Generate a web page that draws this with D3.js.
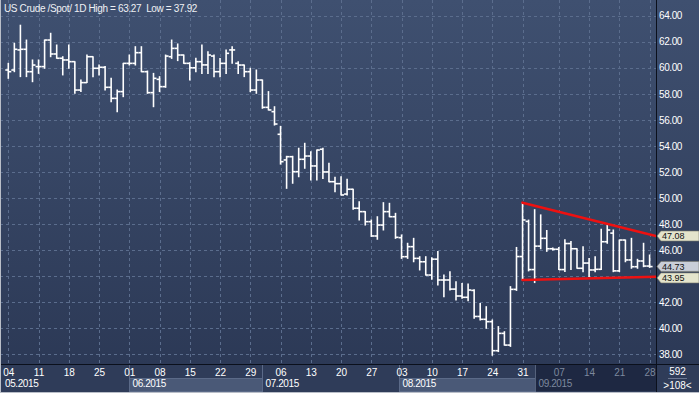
<!DOCTYPE html>
<html><head><meta charset="utf-8">
<script src="https://cdn.jsdelivr.net/npm/d3@7"></script>
<style>
html,body{margin:0;padding:0;background:#2f3c59;overflow:hidden;}
svg{display:block;}
text{font-family:"Liberation Sans",Arial,sans-serif;white-space:pre;}
</style></head><body>
<svg id="chart" width="699" height="393"></svg>
<script>
const titleText = "US Crude /Spot/ 1D High = 63.27  Low = 37.92";
const open  = [59.83,59.83,61.37,61.42,59.70,60.09,60.09,62.13,61.06,60.73,60.60,60.47,58.29,58.86,60.85,59.96,60.04,58.50,57.65,58.17,
60.34,60.34,61.16,59.70,58.09,59.11,58.55,60.85,61.49,60.98,60.34,60.00,60.47,60.22,60.90,59.70,60.34,61.37,60.34,60.21,
59.70,58.29,59.06,56.96,56.63,54.89,52.92,53.17,52.02,52.97,53.22,52.46,53.74,52.00,51.25,51.10,50.30,50.67,49.21,48.95,
48.18,47.08,47.92,48.95,48.56,46.95,45.49,46.26,45.36,45.10,44.08,45.30,43.70,43.70,43.00,42.47,42.37,42.90,40.90,40.68,
40.50,38.27,39.60,38.70,42.98,45.50,48.20,44.50,46.30,46.90,46.10,46.06,44.50,46.50,46.10,44.60,45.00,44.47,44.52,46.64,
47.30,44.40,46.77,45.24,44.72,45.16,44.77];
const high  = [60.34,61.88,63.27,62.13,60.60,60.60,62.13,62.65,61.75,60.85,61.75,60.47,59.06,60.98,60.85,60.21,60.09,59.19,58.29,60.34,
60.98,61.62,61.62,59.75,59.57,59.32,60.98,62.13,61.83,60.98,60.39,60.73,61.75,61.24,60.98,60.72,61.37,61.62,60.47,60.21,
59.96,59.83,59.06,58.17,57.01,55.50,53.20,53.20,53.82,54.20,53.55,53.68,53.82,52.66,51.60,51.63,51.43,50.67,49.71,48.95,
48.31,48.56,49.64,49.59,48.82,47.16,46.52,46.90,45.49,45.49,45.40,45.88,44.08,44.34,43.57,43.44,43.39,42.95,41.90,41.65,
40.63,40.12,39.73,43.19,46.20,49.64,48.30,49.10,48.70,47.50,46.15,46.20,46.80,46.65,46.10,46.26,45.36,45.49,47.59,47.90,
47.54,46.77,46.77,46.90,45.29,46.52,45.62];
const low   = [59.19,59.70,59.32,59.32,58.93,59.57,59.96,60.85,60.73,59.45,59.96,58.04,58.17,58.86,59.32,59.45,58.29,57.40,56.63,57.78,
60.21,60.21,59.70,58.04,57.01,58.17,58.50,60.72,60.55,60.34,59.06,59.70,59.57,59.57,59.32,59.32,59.57,60.34,59.57,59.32,
58.17,58.04,56.89,56.76,55.60,52.60,50.74,51.13,51.63,52.28,51.38,51.38,51.50,51.25,50.48,50.23,50.23,49.13,48.31,47.92,
47.05,46.83,47.54,48.56,46.90,45.36,45.36,45.10,44.47,44.08,43.75,43.31,42.42,42.93,42.16,42.29,42.10,40.76,40.63,39.99,
37.92,38.20,38.70,38.60,42.90,43.70,44.40,43.50,46.10,45.90,46.00,44.50,44.35,44.50,44.60,44.34,43.96,44.34,44.50,46.52,
44.34,44.35,45.10,44.60,44.60,44.72,44.67];
const close = [59.70,61.42,61.42,59.70,60.21,60.09,62.13,61.06,60.73,60.60,60.47,58.29,58.86,60.85,59.96,60.04,58.50,57.65,58.17,60.34,
60.34,61.16,59.70,58.09,59.19,58.55,60.90,61.49,60.98,60.34,60.00,60.47,60.22,60.98,59.70,60.34,61.11,61.37,60.21,59.70,
58.29,59.06,56.96,56.76,55.68,52.79,53.17,52.02,52.97,53.22,52.46,53.68,52.00,51.25,51.10,50.23,50.67,49.21,48.95,48.18,
47.08,47.92,48.95,48.56,46.98,45.49,46.26,45.36,45.10,44.08,45.30,43.70,43.70,43.00,42.47,42.37,42.93,40.90,40.68,40.50,
38.27,39.60,38.70,42.98,45.50,48.31,44.50,46.30,46.90,46.10,46.06,44.50,46.50,46.10,44.60,45.00,44.47,44.52,46.64,47.54,
44.40,46.77,45.24,44.72,45.16,44.77,44.73];

const yTicks = [38,40,42,44,46,48,50,52,54,56,58,60,62,64];
const weekLabels = ["04","11","18","25","01","08","15","22","29","06","13","20","27","03","10","17","24","31","07","14","21","28"];
const weekIdx    = [0,5,10,15,20,25,30,35,40,45,50,55,60,65,70,75,80,85,91,96,101,106];
const monthLabels = ["05.2015","06.2015","07.2015","08.2015","09.2015"];
const monthIdx    = [0,20,42,64.6,87];
// trend lines: [startIndex, startPrice, endIndex, endPrice]
const trendLines = [[85,49.64,107.05,47.08],[85,43.70,107.05,43.95]];
const barCountText = "592";
const visibleText = ">108<";

const W = 699, H = 393, PR = 656, PB = 364;
const svg = d3.select("#chart");
const x = d3.scaleLinear().domain([0,106]).range([8.3,649.6]);
const y = d3.scaleLinear().domain([38,64]).range([354.2,15.7]);

const defs = svg.append("defs");
const g1 = defs.append("linearGradient").attr("id","bg").attr("x1",0).attr("y1",0).attr("x2",0).attr("y2",1);
g1.append("stop").attr("offset","0%").attr("stop-color","#3f5070");
g1.append("stop").attr("offset","100%").attr("stop-color","#2c3956");
defs.append("clipPath").attr("id","clip").append("rect").attr("x",0).attr("y",0).attr("width",PR).attr("height",PB);

svg.append("rect").attr("width",W).attr("height",H).attr("fill","#2f3c59");
svg.append("rect").attr("width",PR).attr("height",PB).attr("fill","url(#bg)");
svg.append("rect").attr("x",PR).attr("width",W-PR).attr("height",PB).attr("fill","url(#bg)");

// grid
const grid = svg.append("g").attr("stroke","#5b6d8d").attr("stroke-dasharray","3,3").attr("shape-rendering","crispEdges");
grid.selectAll(".h").data(yTicks).join("line").attr("x1",0).attr("x2",PR)
  .attr("y1",d=>Math.round(y(d))+0.5).attr("y2",d=>Math.round(y(d))+0.5);
grid.selectAll(".v").data(weekIdx).join("line").attr("y1",0).attr("y2",PB)
  .attr("x1",d=>Math.round(x(d))+0.5).attr("x2",d=>Math.round(x(d))+0.5);

// bars
const idx = d3.range(open.length);
const bars = svg.append("g").attr("clip-path","url(#clip)").attr("stroke","#ffffff").attr("stroke-width",1.6);
bars.selectAll(".hl").data(idx).join("line").attr("x1",i=>x(i)).attr("x2",i=>x(i))
  .attr("y1",i=>y(high[i])-0.5).attr("y2",i=>y(low[i])+0.5);
bars.selectAll(".o").data(idx).join("line").attr("x1",i=>x(i)-3).attr("x2",i=>x(i))
  .attr("y1",i=>y(open[i])).attr("y2",i=>y(open[i]));
bars.selectAll(".c").data(idx).join("line").attr("x1",i=>x(i)).attr("x2",i=>x(i)+3)
  .attr("y1",i=>y(close[i])).attr("y2",i=>y(close[i]));

// trend lines
svg.append("g").attr("clip-path","url(#clip)").selectAll("line").data(trendLines).join("line")
  .attr("x1",d=>x(d[0])).attr("y1",d=>y(d[1])).attr("x2",d=>x(d[2])).attr("y2",d=>y(d[3]))
  .attr("stroke","#ee1111").attr("stroke-width",2.6).attr("stroke-linecap","round");

// title
svg.append("text").attr("x",4).attr("y",12).attr("fill","#eef0f4").attr("font-size",10)
  .attr("letter-spacing",-0.35).text(titleText);

// price tags (computed first so covered axis labels can be skipped, as in the original)
const tags = [
  {v: trendLines[0][3], fill:"#e4e4cc", dy:0},
  {v: close[close.length-1], fill:"#c9ced8", dy:-0.2},
  {v: trendLines[1][3], fill:"#e4e4cc", dy:1.2}
];
const tagY = tags.map(t=>y(t.v)+t.dy);

// right axis
const yAxis = d3.axisRight(y).tickValues(yTicks).tickFormat(d3.format(".2f")).tickSize(0).tickPadding(3);
const ya = svg.append("g").attr("transform",`translate(${PR},0)`).call(yAxis);
ya.select(".domain").remove();
ya.selectAll("text").attr("fill","#ffffff").attr("font-size",10).attr("letter-spacing",-0.4)
  .attr("font-family","Liberation Sans, Arial, sans-serif");
ya.selectAll(".tick").filter(d=>tagY.some(ty=>Math.abs(ty-y(d))<7)).remove();

// bottom area
svg.append("rect").attr("x",0).attr("y",PB).attr("width",PR).attr("height",H-PB).attr("fill","#2f3c59");
monthIdx.forEach((m,k)=>{
  const x0 = k===0 ? 0 : Math.round(x(m));
  const x1 = k<monthIdx.length-1 ? Math.round(x(monthIdx[k+1])) : PR;
  if (k===monthIdx.length-1){
    svg.append("rect").attr("x",x0).attr("y",PB+1).attr("width",x1-x0).attr("height",H-PB-3).attr("fill","#1e2842");
  } else if (k%2===1){
    svg.append("rect").attr("x",x0).attr("y",378).attr("width",x1-x0).attr("height",13).attr("fill","#4a5977")
      .attr("stroke","#5b6a88").attr("stroke-width",1).attr("shape-rendering","crispEdges");
  }
  if (k>0) svg.append("line").attr("x1",x0+0.5).attr("x2",x0+0.5).attr("y1",PB+1).attr("y2",391)
    .attr("stroke", k===monthIdx.length-1 ? "#55627c" : "#5b6a88").attr("shape-rendering","crispEdges");
  svg.append("text").attr("x",k===0?5:x0+3.5).attr("y",387).attr("font-size",10).attr("letter-spacing",-0.4)
    .attr("fill",k===monthIdx.length-1?"#7d889e":"#ffffff").text(monthLabels[k]);
});

const xAxis = d3.axisBottom(x).tickValues(weekIdx).tickFormat((d,i)=>weekLabels[i]).tickSize(0).tickPadding(4.6);
const xa = svg.append("g").attr("transform",`translate(0,${PB})`).call(xAxis);
xa.select(".domain").remove();
xa.selectAll("text").attr("font-size",10).attr("font-family","Liberation Sans, Arial, sans-serif")
  .attr("fill",d=>d>=monthIdx[4]?"#7d889e":"#ffffff");

// separators
svg.append("line").attr("x1",PR+0.5).attr("x2",PR+0.5).attr("y1",0).attr("y2",392).attr("stroke","#0b101c");
svg.append("line").attr("x1",0).attr("x2",W).attr("y1",PB+0.5).attr("y2",PB+0.5).attr("stroke","#0b101c");

// bottom right cell
svg.append("text").attr("x",677.5).attr("y",375).attr("text-anchor","middle").attr("font-size",10).attr("fill","#ffffff").text(barCountText);
svg.append("line").attr("x1",668).attr("x2",687).attr("y1",378.5).attr("y2",378.5).attr("stroke","#6a7690");
svg.append("text").attr("x",677.5).attr("y",388.5).attr("text-anchor","middle").attr("font-size",10).attr("fill","#ffffff").text(visibleText);

// price tags
const tg = svg.append("g");
tags.forEach((t,k)=>{
  const cy = tagY[k];
  tg.append("polygon").attr("points",`${PR+1},${cy} ${PR+5},${cy-5} ${W},${cy-5} ${W},${cy+5} ${PR+5},${cy+5}`)
    .attr("fill",t.fill).attr("stroke","#7b7b6c").attr("stroke-width",0.6);
  tg.append("text").attr("x",PR+6).attr("y",cy+3.2).attr("font-size",9)
    .attr("fill","#101010").text(d3.format(".2f")(t.v));
});

// outer frame
svg.append("line").attr("x1",0.5).attr("x2",0.5).attr("y1",0).attr("y2",H).attr("stroke","#b9bec8");
svg.append("line").attr("x1",0).attr("x2",W).attr("y1",H-0.5).attr("y2",H-0.5).attr("stroke","#b9bec8");
</script>
</body></html>
